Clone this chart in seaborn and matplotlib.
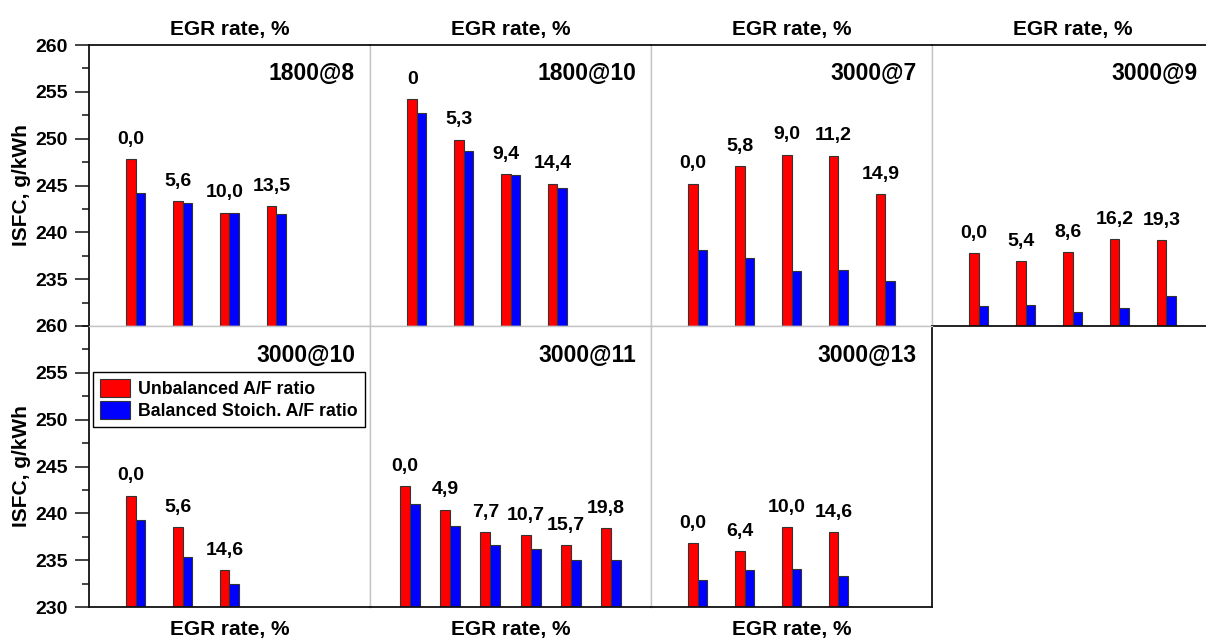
import numpy as np
import pandas as pd
import matplotlib
matplotlib.use("Agg")
import matplotlib.pyplot as plt
from matplotlib.ticker import MultipleLocator
import seaborn as sns

# ISFC (g/kWh) per operating point; EGR rate labels per bar group
egr_1800_8 = ["0,0", "5,6", "10,0", "13,5"]
unbal_1800_8 = [247.8, 243.3, 242.1, 242.8]
bal_1800_8 = [244.2, 243.1, 242.1, 242.0]

egr_1800_10 = ["0", "5,3", "9,4", "14,4"]
unbal_1800_10 = [254.2, 249.9, 246.2, 245.2]
bal_1800_10 = [252.7, 248.7, 246.1, 244.7]

egr_3000_7 = ["0,0", "5,8", "9,0", "11,2", "14,9"]
unbal_3000_7 = [245.2, 247.1, 248.3, 248.2, 244.1]
bal_3000_7 = [238.1, 237.3, 235.9, 236.0, 234.8]

egr_3000_9 = ["0,0", "5,4", "8,6", "16,2", "19,3"]
unbal_3000_9 = [237.8, 236.9, 237.9, 239.3, 239.2]
bal_3000_9 = [232.1, 232.2, 231.5, 231.9, 233.2]

egr_3000_10 = ["0,0", "5,6", "14,6"]
unbal_3000_10 = [241.9, 238.5, 233.9]
bal_3000_10 = [239.3, 235.3, 232.5]

egr_3000_11 = ["0,0", "4,9", "7,7", "10,7", "15,7", "19,8"]
unbal_3000_11 = [242.9, 240.4, 238.0, 237.7, 236.6, 238.4]
bal_3000_11 = [241.0, 238.6, 236.6, 236.2, 235.0, 235.0]

egr_3000_13 = ["0,0", "6,4", "10,0", "14,6"]
unbal_3000_13 = [236.8, 236.0, 238.5, 238.0]
bal_3000_13 = [232.9, 234.0, 234.1, 233.3]

series_names = ["Unbalanced A/F ratio", "Balanced Stoich. A/F ratio"]
colors = {"Unbalanced A/F ratio": "#ff0000", "Balanced Stoich. A/F ratio": "#0000ff"}

panels = [
    ("1800@8", egr_1800_8, unbal_1800_8, bal_1800_8, 0, 0),
    ("1800@10", egr_1800_10, unbal_1800_10, bal_1800_10, 0, 1),
    ("3000@7", egr_3000_7, unbal_3000_7, bal_3000_7, 0, 2),
    ("3000@9", egr_3000_9, unbal_3000_9, bal_3000_9, 0, 3),
    ("3000@10", egr_3000_10, unbal_3000_10, bal_3000_10, 1, 0),
    ("3000@11", egr_3000_11, unbal_3000_11, bal_3000_11, 1, 1),
    ("3000@13", egr_3000_13, unbal_3000_13, bal_3000_13, 1, 2),
]

sns.set_style("white")
plt.rcParams["font.family"] = ["Liberation Sans", "DejaVu Sans"]
plt.rcParams["font.weight"] = "bold"
plt.rcParams["axes.labelweight"] = "bold"
plt.rcParams["text.color"] = "black"
plt.rcParams["axes.labelcolor"] = "black"
plt.rcParams["ytick.color"] = "black"
plt.rcParams["xtick.color"] = "black"

W, H = 1206, 639
fig = plt.figure(figsize=(W / 100, H / 100), dpi=100)

PX_LEFT, PX_W, PX_H = 89, 281, 281
ROW_TOP = [45, 326]
DARK = "#111111"
LIGHT = "#c4c4c4"


def rect(x0, y0, w, h):
    return [x0 / W, 1 - (y0 + h) / H, w / W, h / H]


for title, egr, unbal, bal, row, col in panels:
    ax = fig.add_axes(rect(PX_LEFT + col * PX_W, ROW_TOP[row], PX_W, PX_H))
    n = len(egr)
    df = pd.DataFrame({
        "egr": egr * 2,
        "isfc": list(unbal) + list(bal),
        "mode": [series_names[0]] * n + [series_names[1]] * n,
    })
    slots = 7 if n > 5 else 6
    show_legend = title == "3000@10"
    sns.barplot(data=df, x="egr", y="isfc", hue="mode", order=egr,
                hue_order=series_names, palette=colors, dodge=True,
                saturation=1, width=0.5 if slots == 7 else 0.4, errorbar=None,
                edgecolor="#333333", linewidth=0.8, legend=show_legend, ax=ax)
    ax.set_xlim(-1, slots - 1)
    ax.set_ylim(230, 260)
    ax.set_xticks([])

    # EGR rate label above each group
    for i, (lab, v) in enumerate(zip(egr, unbal)):
        ax.annotate(lab, (i - 0.1 if slots == 6 else i - 0.125, v),
                    xytext=(0, 11), textcoords="offset points",
                    ha="center", va="baseline", fontsize=14, fontweight="bold")

    ax.text(1 - 15 / PX_W, 1 - 29 / PX_H, title, transform=ax.transAxes,
            ha="right", va="center", fontsize=16.5, fontweight="bold")

    # spines: light separators, dark outer frame
    for s in ax.spines.values():
        s.set_color(LIGHT)
        s.set_linewidth(1.0)
    if row == 0:
        ax.spines["top"].set_color(DARK)
        ax.spines["top"].set_linewidth(1.3)
        ax.xaxis.set_label_position("top")
        ax.set_xlabel("EGR rate, %", fontsize=15, labelpad=7)
        if col == 3:
            ax.spines["bottom"].set_color(DARK)
            ax.spines["bottom"].set_linewidth(1.3)
            ax.spines["right"].set_visible(False)
    else:
        ax.spines["bottom"].set_color(DARK)
        ax.spines["bottom"].set_linewidth(1.3)
        ax.set_xlabel("EGR rate, %", fontsize=15, labelpad=9)
        if col == 2:
            ax.spines["right"].set_color(DARK)
            ax.spines["right"].set_linewidth(1.3)

    if col == 0:
        ax.spines["left"].set_color(DARK)
        ax.spines["left"].set_linewidth(1.3)
        ax.set_yticks(np.arange(235 if row == 0 else 230, 261, 5))
        ax.yaxis.set_minor_locator(MultipleLocator(2.5))
        ax.tick_params(axis="y", which="major", left=True, direction="out",
                       length=10, width=1.1, color=DARK, labelsize=14, pad=5)
        ax.tick_params(axis="y", which="minor", left=True, direction="out",
                       length=5, width=1.1, color=DARK)
        ax.set_ylabel("ISFC, g/kWh", fontsize=15, labelpad=3)
    else:
        ax.set_yticks([])
        ax.set_ylabel("")

    if show_legend:
        sns.move_legend(ax, "upper left", bbox_to_anchor=(4 / PX_W, 1 - 46 / PX_H),
                        title=None, frameon=True, fancybox=False,
                        borderaxespad=0, borderpad=0.4, handlelength=1.7,
                        handleheight=1.2, handletextpad=0.45, labelspacing=0.15,
                        edgecolor="black", framealpha=1,
                        prop={"size": 12.8, "weight": "bold"})
        leg = ax.get_legend()
        leg.get_frame().set_linewidth(1.0)
        for h in leg.legend_handles:
            h.set_edgecolor("#333333")
            h.set_linewidth(0.8)

fig.savefig("out.png", dpi=100)
